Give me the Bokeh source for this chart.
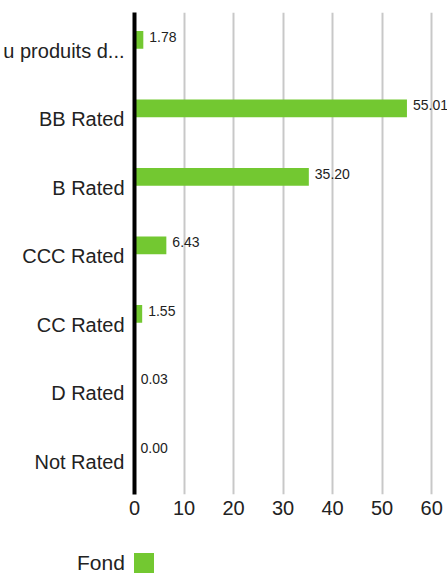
from bokeh.plotting import figure
from bokeh.layouts import column
from bokeh.models import (Range1d, FixedTicker, ColumnDataSource, Div)
from bokeh.core.properties import value
from bokeh.embed import file_html
from bokeh.resources import INLINE

# ---- data ----
categories = ["u produits d...", "BB Rated", "B Rated", "CCC Rated", "CC Rated", "D Rated", "Not Rated"]
fond_values = [1.78, 55.01, 35.20, 6.43, 1.55, 0.03, 0.00]
x_ticks = [0, 10, 20, 30, 40, 50, 60]
series_name = "Fond"

FONT = "Liberation Sans"
TXT = "#222222"
GREEN = "#73C831"

pos = list(range(len(categories)))
bar_pos = [i - 0.155 for i in pos]
src = ColumnDataSource(dict(
    y=bar_pos,
    val=fond_values,
    lbl=["%.2f" % v for v in fond_values],
))

p = figure(frame_width=314, frame_height=482, output_backend="svg", toolbar_location=None,
           x_range=Range1d(0, 63.4), y_range=Range1d(6.48, -0.555),
           min_border_left=125, min_border_right=0, min_border_top=12, min_border_bottom=0)
p.outline_line_color = None
p.background_fill_color = "white"

bars = p.hbar(y="y", left=0, right="val", height=0.26, source=src,
              fill_color=GREEN, line_color=None)

p.text(x="val", y="y", text="lbl", source=src, x_offset=6, y_offset=-3,
       text_font=value(FONT), text_font_size="14px", text_color=TXT,
       text_align="left", text_baseline="middle")

# axes
p.xaxis.ticker = FixedTicker(ticks=x_ticks)
p.xaxis.axis_line_color = None
p.xaxis.major_tick_line_color = None
p.xaxis.minor_tick_line_color = None
p.xaxis.major_label_text_font = FONT
p.xaxis.major_label_text_font_size = "20px"
p.xaxis.major_label_text_color = TXT
p.xaxis.major_label_standoff = 0

p.yaxis.ticker = FixedTicker(ticks=pos)
p.yaxis.major_label_overrides = {i: c for i, c in zip(pos, categories)}
p.yaxis.axis_line_color = "black"
p.yaxis.axis_line_width = 4
p.yaxis.major_tick_line_color = None
p.yaxis.minor_tick_line_color = None
p.yaxis.major_label_text_font = FONT
p.yaxis.major_label_text_font_size = "20px"
p.yaxis.major_label_text_color = TXT
p.yaxis.major_label_standoff = 4

p.xgrid.ticker = FixedTicker(ticks=x_ticks[1:])
p.xgrid.grid_line_color = "#c8c8c8"
p.xgrid.grid_line_width = 2
p.ygrid.grid_line_color = None

# legend strip: series name on the left of its swatch
legend_html = (
    '<div style="display:flex;align-items:flex-end;height:56px;padding-left:77px;'
    "font-family:'%s';font-size:21px;color:%s;line-height:20px;\">"
    '<span>%s</span>'
    '<span style="display:inline-block;width:20px;height:20px;background:%s;margin-left:9px;"></span>'
    '</div>' % (FONT, TXT, series_name, GREEN)
)
legend_div = Div(text=legend_html, width=439, height=56, margin=0)

layout = column(p, legend_div, spacing=0)
open("out.html", "w").write(file_html(layout, INLINE))
